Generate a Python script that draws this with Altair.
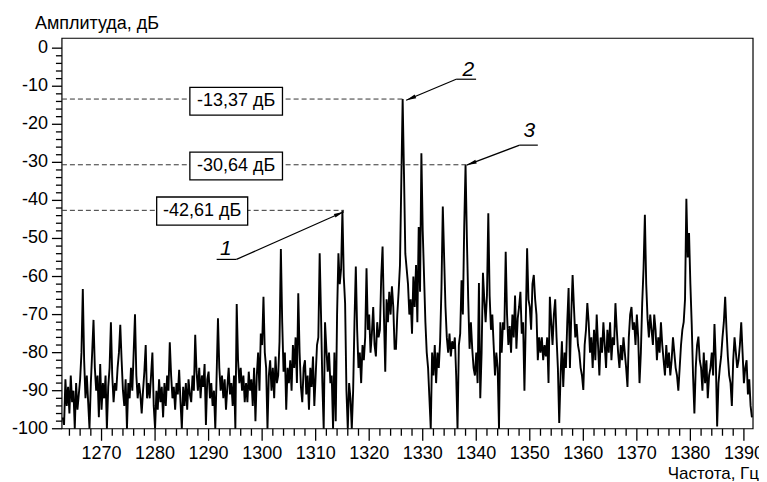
import altair as alt
import pandas as pd

# ---------------- data ----------------
F_START = 1262.0   # Hz, first sample
F_STEP = 0.25      # Hz between samples

# amplitude in dB, four samples per hertz (f, f+.25, f+.5, f+.75)
amplitude_db = [
    -84, -92, -88, -97,      # 1262
    -99, -87, -94, -89,      # 1263
    -96, -86, -93, -90,      # 1264
    -100, -88, -95, -91,     # 1265
    -87, -80, -63.3, -82,    # 1266
    -92, -86, -93, -100,     # 1267
    -88, -80, -71.4, -84,    # 1268
    -90, -86, -97, -83,      # 1269
    -95, -88, -92, -86,      # 1270
    -100, -89, -84, -72,     # 1271
    -86, -93, -88, -90,      # 1272
    -84, -80, -72.7, -82,    # 1273
    -90, -94, -87, -100,     # 1274
    -88, -92, -84, -90,      # 1275
    -80, -69.9, -86, -92,    # 1276
    -88, -91, -96, -90,      # 1277
    -85, -78, -92, -88,      # 1278
    -92, -86, -80, -94,      # 1279
    -100, -90, -95, -87,     # 1280
    -93, -89, -97, -88,      # 1281
    -94, -86, -90, -77.3,    # 1282
    -86, -92, -89, -95,      # 1283
    -88, -91, -84.5, -93,    # 1284
    -100, -89, -94, -88,     # 1285
    -95, -87, -91, -93,      # 1286
    -86, -90, -75.3, -85,    # 1287
    -90, -84, -92, -86,      # 1288
    -89, -83, -99, -87,      # 1289
    -85, -92, -88, -94,      # 1290
    -90, -100, -86, -71,     # 1291
    -84, -90, -86, -92,      # 1292
    -87, -95, -89, -84,      # 1293
    -91, -88, -94, -86,      # 1294
    -100, -67.2, -82, -88,   # 1295
    -84, -90, -86, -93,      # 1296
    -88, -93, -85, -90,      # 1297
    -87, -94, -84, -98,      # 1298
    -86, -80, -90, -75,      # 1299
    -78, -65.3, -80, -84,    # 1300
    -100, -86, -82, -90,     # 1301
    -84, -92, -81, -88,      # 1302
    -86, -77, -52.8, -72,    # 1303
    -85, -80, -95, -84,      # 1304
    -88, -82, -90, -78,      # 1305
    -84, -76, -88, -64.4,    # 1306
    -80, -89, -93, -84,      # 1307
    -82, -91, -86, -95,      # 1308
    -84, -89, -81, -94,      # 1309
    -86, -78, -76, -53.9,    # 1310
    -70, -88, -100, -72,     # 1311
    -79, -85, -80, -88,      # 1312
    -86, -100, -80, -98,     # 1313
    -70, -53.9, -62, -58,    # 1314
    -42.61, -60, -67, -90,   # 1315
    -100, -88, -92, -100,    # 1316
    -90, -72, -57.4, -74,    # 1317
    -84, -80, -88, -78,      # 1318
    -82, -76, -57.8, -74,    # 1319
    -70, -80, -75, -68,      # 1320
    -78, -81, -72, -76,      # 1321
    -74, -60, -52.1, -70,    # 1322
    -85, -66, -72, -64,      # 1323
    -70, -62.6, -68, -79,    # 1324
    -79, -70, -64, -57,      # 1325
    -35, -13.37, -33, -54,   # 1326
    -58, -62, -70, -66,      # 1327
    -75, -60, -68, -57,      # 1328
    -72, -47, -64, -27.6,    # 1329
    -48, -60, -72, -80,      # 1330
    -84, -92, -100, -80,     # 1331
    -86, -78, -88, -80,      # 1332
    -84, -77, -63, -41.6,    # 1333
    -55, -68, -76, -80,      # 1334
    -75, -81, -77, -79,      # 1335
    -76, -86, -100, -78,     # 1336
    -75, -61, -70, -47,      # 1337
    -30.64, -50, -66, -79,   # 1338
    -72, -79, -84, -86,      # 1339
    -80, -88, -61.7, -92,    # 1340
    -80, -59, -66, -72,      # 1341
    -65, -43.4, -65, -74,    # 1342
    -70, -78, -86, -80,      # 1343
    -84, -100, -72, -80,     # 1344
    -72, -74, -53.5, -70,    # 1345
    -78, -73, -80, -70,      # 1346
    -76, -65, -79, -71,      # 1347
    -68, -64, -75, -72,      # 1348
    -90, -72, -52.6, -66,    # 1349
    -68, -74, -62, -59.6,    # 1350
    -66, -70, -82, -76,      # 1351
    -80, -76, -82, -78,      # 1352
    -81, -76, -88, -65.3,    # 1353
    -72, -78, -70, -66,      # 1354
    -76, -84, -98.5, -86,    # 1355
    -77, -89, -80, -84,      # 1356
    -72, -63, -84, -70,      # 1357
    -59.6, -68, -76, -72.5,  # 1358
    -78, -80, -84, -86,      # 1359
    -89.8, -78, -74, -67,    # 1360
    -72, -80, -76, -84,      # 1361
    -74, -82, -70, -78,      # 1362
    -86, -76, -80, -72,      # 1363
    -78, -84, -74, -80,      # 1364
    -72, -82, -76, -78,      # 1365
    -67, -74, -80, -84,      # 1366
    -78, -82, -76, -80,      # 1367
    -84, -89, -76, -70,      # 1368
    -68, -74, -72, -78,      # 1369
    -70, -76, -88, -80,      # 1370
    -67, -58, -43.8, -62,    # 1371
    -71, -76, -70, -74,      # 1372
    -78, -70, -74, -82,      # 1373
    -76, -80, -72, -78,      # 1374
    -82, -86, -78, -84,      # 1375
    -80, -86, -82, -76,      # 1376
    -80, -84, -86, -90,      # 1377
    -84, -78, -74, -72,      # 1378
    -66, -39.6, -55, -48.6,  # 1379
    -62, -72.5, -86, -96,    # 1380
    -84, -78, -75.8, -82,    # 1381
    -84, -90, -80, -88,      # 1382
    -82, -92, -86, -84,      # 1383
    -80, -86, -72.5, -82,    # 1384
    -99.4, -88, -84, -81,    # 1385
    -76, -72, -65.3, -74,    # 1386
    -81, -86, -88, -94,      # 1387
    -82, -76, -80, -84,      # 1388
    -82, -78, -72, -80,      # 1389
    -88, -84, -82, -91,      # 1390
    -87, -94, -97, -92,      # 1391
]

# marked peaks
marker_freqs = [1326.4, 1338.1, 1315.3]
marker_levels = [-13.37, -30.64, -42.61]
marker_texts = ["-13,37 дБ", "-30,64 дБ", "-42,61 дБ"]
marker_numbers = ["2", "3", "1"]

# axis ticks and titles
x_major = list(range(1270, 1391, 10))
x_minor = [v for v in range(1264, 1392, 2) if v % 10 != 0]
y_major = list(range(-100, 1, 10))
y_minor = [v for v in range(-98, 1, 2) if v % 10 != 0]
y_title = "Амплитуда, дБ"
x_title = "Частота, Гц"

# ---------------- layout ----------------
# framed plot region (data units)
X_MIN, X_MAX = 1262.6, 1391.7
Y_MIN, Y_MAX = -100, 2.6
FRAME_W, FRAME_H = 692, 391          # px of the framed region
VIEW_W, VIEW_H = 752, 473            # px of the whole drawing area
FRAME_LEFT, FRAME_TOP = 54, 30       # px offset of the frame inside the view
PX_PER_HZ = FRAME_W / (X_MAX - X_MIN)
PX_PER_DB = FRAME_H / (Y_MAX - Y_MIN)

# scales cover the whole view so that ticks and labels sit inside it
XS_DOMAIN = [X_MIN - FRAME_LEFT / PX_PER_HZ,
             X_MIN + (VIEW_W - FRAME_LEFT) / PX_PER_HZ]
YS_DOMAIN = [Y_MAX - (VIEW_H - FRAME_TOP) / PX_PER_DB,
             Y_MAX + FRAME_TOP / PX_PER_DB]


def dx(px):  # horizontal pixel offset -> Hz
    return px / PX_PER_HZ


def dy(px):  # vertical pixel offset -> dB
    return px / PX_PER_DB


frame_df = pd.DataFrame({"a0": [X_MIN], "a1": [X_MAX], "b0": [Y_MIN], "b1": [Y_MAX]})

box_layout = pd.DataFrame({
    "bx0": [1286.5, 1286.5, 1280.3],
    "bx1": [1303.8, 1303.8, 1297.3],
    "by0": [-10.3, -27.3, -39.1],
    "by1": [-17.6, -34.6, -46.5],
    "tx": [1295.15, 1295.15, 1288.8],
    "ty": [-13.9, -31.0, -42.8],
    "label": marker_texts,
})

leader_layout = pd.DataFrame({
    # leader lines (underline end -> peak) and underlines
    "x0": [1336.24, 1348.1, 1295.2, 1336.24, 1348.1, 1291.5],
    "y0": [-8.16, -25.48, -55.5, -8.16, -25.48, -55.5],
    "x1": [1326.9, 1338.2, 1315.27, 1339.97, 1351.5, 1295.2],
    "y1": [-13.67, -30.72, -43.0, -8.16, -25.48, -55.5],
})

arrow_layout = pd.DataFrame({
    "ax": [1327.78, 1339.09, 1314.4],
    "ay": [-13.17, -30.25, -43.5],
    "ang": [157.2, 159.3, 336.2],
})

number_layout = pd.DataFrame({
    "nx": [1338.53, 1349.9, 1293.2],
    "ny": [-5.8, -21.8, -52.8],
    "num": marker_numbers,
})

dash_df = pd.DataFrame({
    "x0": [X_MIN] * 3,
    "x1": marker_freqs,
    "y": marker_levels,
})

trace_df = pd.DataFrame({
    "freq": [F_START + i * F_STEP for i in range(len(amplitude_db))],
    "amp": amplitude_db,
})


def xtick_df(values, length_px):
    return pd.DataFrame({
        "a0": values, "a1": values,
        "b0": [Y_MIN] * len(values),
        "b1": [Y_MIN - dy(length_px)] * len(values),
    })


def ytick_df(values, length_px):
    return pd.DataFrame({
        "a0": [X_MIN] * len(values),
        "a1": [X_MIN - dx(length_px)] * len(values),
        "b0": values, "b1": values,
    })


ticks_df = pd.concat([
    xtick_df(x_major, 12), xtick_df(x_minor, 7),
    ytick_df(y_major, 10), ytick_df(y_minor, 6),
], ignore_index=True)

xlabel_df = pd.DataFrame({
    "lx": x_major, "ly": [Y_MIN - dy(25)] * len(x_major),
    "label": [str(v) for v in x_major],
})
ylabel_df = pd.DataFrame({
    "lx": [X_MIN - dx(14)] * len(y_major), "ly": y_major,
    "label": [str(v) for v in y_major],
})
ytitle_df = pd.DataFrame({"lx": [X_MIN - dx(27)], "ly": [Y_MAX + dy(9)], "label": [y_title]})
xtitle_df = pd.DataFrame({"lx": [X_MIN + dx(698)], "ly": [Y_MIN - dy(50)], "label": [x_title]})

# ---------------- chart ----------------
FONT = "Liberation Sans"
xs = alt.Scale(domain=XS_DOMAIN, nice=False, zero=False)
ys = alt.Scale(domain=YS_DOMAIN, nice=False, zero=False)

trace = alt.Chart(trace_df).transform_filter(
    (alt.datum.freq >= X_MIN) & (alt.datum.freq <= X_MAX)
).mark_line(color="black", strokeWidth=1.9).encode(
    x=alt.X("freq:Q", scale=xs, axis=None),
    y=alt.Y("amp:Q", scale=ys, axis=None),
)

frame = alt.Chart(frame_df).mark_rect(
    fillOpacity=0, fill="white", stroke="black", strokeWidth=1.2
).encode(
    x=alt.X("a0:Q", scale=xs, axis=None), x2="a1:Q",
    y=alt.Y("b0:Q", scale=ys, axis=None), y2="b1:Q",
)

ticks = alt.Chart(ticks_df).mark_rule(color="black", strokeWidth=1.3).encode(
    x=alt.X("a0:Q", scale=xs, axis=None), x2="a1:Q",
    y=alt.Y("b0:Q", scale=ys, axis=None), y2="b1:Q",
)


def text_layer(df, align, baseline, size=18):
    return alt.Chart(df).mark_text(
        font=FONT, fontSize=size, color="black", align=align, baseline=baseline
    ).encode(
        x=alt.X("lx:Q", scale=xs, axis=None),
        y=alt.Y("ly:Q", scale=ys, axis=None),
        text="label:N",
    )


xlabels = text_layer(xlabel_df, "center", "middle")
ylabels = text_layer(ylabel_df, "right", "middle")
ytitle = text_layer(ytitle_df, "left", "alphabetic")
xtitle = text_layer(xtitle_df, "right", "alphabetic", 17)

dashes = alt.Chart(dash_df).mark_rule(
    strokeDash=[5, 3], color="#333", strokeWidth=1
).encode(
    x=alt.X("x0:Q", scale=xs, axis=None), x2="x1:Q",
    y=alt.Y("y:Q", scale=ys, axis=None),
)

boxes = alt.Chart(box_layout).mark_rect(
    fill="white", stroke="black", strokeWidth=1.3
).encode(
    x=alt.X("bx0:Q", scale=xs, axis=None), x2="bx1:Q",
    y=alt.Y("by0:Q", scale=ys, axis=None), y2="by1:Q",
)

box_text = alt.Chart(box_layout).mark_text(
    font=FONT, fontSize=18, color="black", align="center", baseline="middle"
).encode(
    x=alt.X("tx:Q", scale=xs, axis=None),
    y=alt.Y("ty:Q", scale=ys, axis=None),
    text="label:N",
)

leaders = alt.Chart(leader_layout).mark_rule(
    color="black", strokeWidth=1.2
).encode(
    x=alt.X("x0:Q", scale=xs, axis=None), x2="x1:Q",
    y=alt.Y("y0:Q", scale=ys, axis=None), y2="y1:Q",
)

arrows = alt.Chart(arrow_layout).mark_point(
    shape="M 1 0 L -1 -0.4 L -1 0.4 Z", size=100, filled=True,
    color="black", opacity=1
).encode(
    x=alt.X("ax:Q", scale=xs, axis=None),
    y=alt.Y("ay:Q", scale=ys, axis=None),
    angle=alt.Angle("ang:Q", scale=None),
)

numbers = alt.Chart(number_layout).mark_text(
    font=FONT, fontSize=21, fontStyle="italic", color="black",
    align="center", baseline="middle"
).encode(
    x=alt.X("nx:Q", scale=xs, axis=None),
    y=alt.Y("ny:Q", scale=ys, axis=None),
    text="num:N",
)

chart = alt.layer(
    trace, frame, ticks,
    xlabels, ylabels, ytitle, xtitle,
    dashes, boxes, box_text, leaders, arrows, numbers
).properties(
    width=VIEW_W, height=VIEW_H,
    autosize=alt.AutoSizeParams(type="none"),
    padding=0,
    background="white",
).configure_view(
    stroke="transparent", strokeWidth=0
)

chart.save("out.html", embed_options={"renderer": "svg", "actions": False})
